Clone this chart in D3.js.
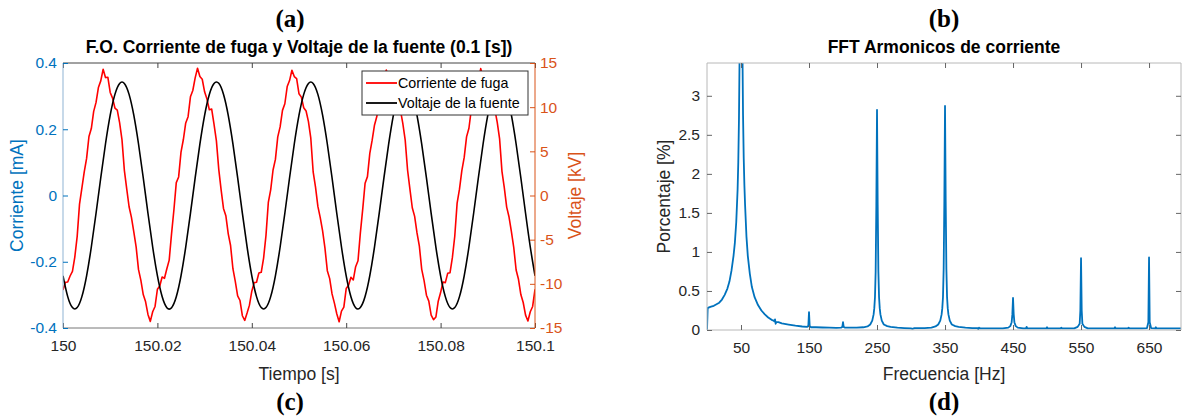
<!DOCTYPE html>
<html><head><meta charset="utf-8">
<script src="https://cdn.jsdelivr.net/npm/d3@7"></script>
<style>body{margin:0;background:#fff}svg{display:block}text{font-family:"Liberation Sans",Arial,sans-serif}</style>
</head><body>
<svg id="c" width="1182" height="417"></svg>
<script>
// ---------- DATA: panel (a)/(c) ----------
const timeStart = 150, timeEnd = 150.1;
const currentStep = 0.0005; // s between current samples
const voltageStep = 0.001;  // s between voltage samples
const timeTicks = [150, 150.02, 150.04, 150.06, 150.08, 150.1];
const timeTickLabels = ["150", "150.02", "150.04", "150.06", "150.08", "150.1"];
const currentTicks = [-0.4, -0.2, 0, 0.2, 0.4];
const currentTickLabels = ["-0.4", "-0.2", "0", "0.2", "0.4"];
const voltageTicks = [-15, -10, -5, 0, 5, 10, 15];
const voltageTickLabels = ["-15", "-10", "-5", "0", "5", "10", "15"];
const legendLabels = ["Corriente de fuga", "Voltaje de la fuente"];
// leakage current [mA]
const currentValues = [
-0.285,-0.262,-0.261,-0.243,-0.229,-0.186,-0.124,-0.026,0.022,0.071,0.112,0.178,0.202,0.254,0.281,0.326,0.346,0.381,0.356,0.357,0.311,0.294,0.264,0.258,0.219,0.168,0.076,0.020,-0.034,-0.066,-0.110,-0.156,-0.224,-0.256,-0.299,-0.321,-0.359,-0.380,-0.351,-0.335,
-0.283,-0.273,-0.246,-0.250,-0.221,-0.195,-0.115,-0.043,0.039,0.056,0.131,0.169,0.219,0.238,0.298,0.317,0.355,0.384,0.359,0.351,0.313,0.291,0.259,0.261,0.215,0.165,0.079,0.017,-0.039,-0.061,-0.115,-0.151,-0.221,-0.259,-0.303,-0.317,-0.363,-0.377,-0.355,-0.331,
-0.289,-0.263,-0.262,-0.234,-0.232,-0.189,-0.121,-0.021,0.017,0.077,0.109,0.177,0.207,0.257,0.277,0.329,0.347,0.378,0.359,0.353,0.307,0.297,0.265,0.255,0.223,0.173,0.071,0.025,-0.033,-0.067,-0.107,-0.159,-0.227,-0.251,-0.297,-0.325,-0.357,-0.381,-0.349,-0.337,
-0.281,-0.271,-0.247,-0.255,-0.215,-0.197,-0.113,-0.041,0.037,0.057,0.127,0.167,0.213,0.239,0.297,0.313,0.357,0.379,0.353,0.355,0.309,0.293,0.261,0.257,0.217,0.167,0.077,0.019,-0.037,-0.063,-0.113,-0.153,-0.223,-0.257,-0.301,-0.319,-0.361,-0.375,-0.367,-0.319,
-0.293,-0.261,-0.263,-0.235,-0.233,-0.187,-0.123,-0.023,0.019,0.075,0.115,0.177,0.203,0.259,0.279,0.325,0.345,0.383,0.357,0.353,0.311,0.295,0.263,0.259,0.221,0.171,0.073,0.023,-0.035,-0.065,-0.109,-0.157,-0.225,-0.253,-0.299,-0.323,-0.361,-0.379,-0.351,-0.335,
-0.283];
// source voltage [kV]
const voltageValues = [
-9.09,-11.45,-12.69,-12.69,-11.45,-9.09,-5.83,-2.01,2.01,5.83,9.09,11.45,12.69,12.69,11.45,9.09,5.83,2.01,-2.01,-5.83,
-9.08,-11.44,-12.70,-12.70,-11.46,-9.10,-5.84,-2.02,2.00,5.82,9.08,11.44,12.68,12.70,11.46,9.10,5.84,2.02,-2.00,-5.82,
-9.09,-11.45,-12.69,-12.69,-11.45,-9.09,-5.83,-2.01,2.01,5.83,9.09,11.45,12.69,12.69,11.45,9.09,5.83,2.01,-2.01,-5.83,
-9.10,-11.46,-12.70,-12.68,-11.44,-9.08,-5.82,-2.00,2.02,5.84,9.10,11.46,12.70,12.68,11.44,9.08,5.82,2.00,-2.02,-5.84,
-9.09,-11.45,-12.69,-12.69,-11.45,-9.09,-5.83,-2.01,2.01,5.83,9.09,11.45,12.69,12.69,11.45,9.09,5.83,2.01,-2.01,-5.83,
-9.09];

// ---------- DATA: panel (b)/(d) ----------
const freqHz = [0,1,3,6,10,14,18,22,26,30,33,36,39,41,43,45,46,47,48,49,50,51,52,53,54,55,56,58,60,63,66,70,75,80,85,90,95,98,99,100,101,102,105,110,120,130,140,147,149,150,151,153,160,170,180,190,197,199,200,201,203,210,220,230,236,240,243,245,246,247,248,249,250,251,252,253,254,255,257,260,265,270,280,290,300,302,305,320,330,336,340,343,345,346,347,348,349,350,351,352,353,354,355,357,360,365,370,380,390,398,399,400,402,420,435,443,446,448,449,450,451,452,454,457,465,469,470,471,480,490,499,500,501,520,521,522,540,545,548,549,550,551,552,555,560,580,599,600,601,619,620,621,640,647,649,650,651,653,659,660,661,680,700];
const percentValues = [0,0.28,0.29,0.30,0.31,0.33,0.35,0.39,0.45,0.53,0.62,0.76,0.95,1.12,1.38,1.80,2.15,2.70,3.60,5.5,8.0,5.6,3.7,2.75,2.2,1.85,1.6,1.2,0.95,0.72,0.55,0.42,0.32,0.25,0.20,0.16,0.13,0.12,0.11,0.135,0.08,0.10,0.10,0.085,0.07,0.055,0.045,0.04,0.05,0.23,0.05,0.035,0.035,0.032,0.03,0.028,0.03,0.04,0.10,0.04,0.03,0.03,0.03,0.035,0.045,0.07,0.12,0.2,0.28,0.42,0.75,1.6,2.82,1.6,0.75,0.42,0.28,0.2,0.12,0.07,0.05,0.04,0.03,0.025,0.02,0.015,0.025,0.025,0.03,0.045,0.07,0.12,0.2,0.28,0.42,0.78,1.65,2.87,1.65,0.78,0.42,0.28,0.2,0.12,0.07,0.05,0.04,0.03,0.025,0.025,0.01,0.03,0.02,0.02,0.02,0.03,0.05,0.1,0.2,0.41,0.2,0.1,0.05,0.03,0.02,0.02,0.04,0.02,0.02,0.02,0.02,0.035,0.02,0.02,0.03,0.02,0.02,0.04,0.08,0.25,0.92,0.25,0.08,0.04,0.02,0.02,0.02,0.035,0.02,0.02,0.03,0.02,0.02,0.025,0.1,0.93,0.1,0.025,0.02,0.035,0.02,0.02,0.02];
const freqTicks = [50,150,250,350,450,550,650];
const percentTicks = [0,0.5,1,1.5,2,2.5,3];
const percentTickLabels = ["0","0.5","1","1.5","2","2.5","3"];

// ---------- DRAW ----------
const svg = d3.select("#c");
const BLUE = "#0072BD", ORANGE = "#D95319", TXT = "#262626";
const TICKFS = "15.5px", LABFS = "17.5px";

function caption(x, y, t){
  svg.append("text").attr("x",x).attr("y",y).attr("text-anchor","middle")
    .style("font-family","'Liberation Serif','Times New Roman',serif").style("font-weight","bold")
    .style("font-size","25px").attr("fill","#000").text(t);
}

// ===== Panel left =====
const L = {l:63, r:535, t:63, b:328};
const xT = d3.scaleLinear().domain([timeStart,timeEnd]).range([L.l,L.r]);
const yI = d3.scaleLinear().domain([-0.4,0.4]).range([L.b,L.t]);
const yV = d3.scaleLinear().domain([-15,15]).range([L.b,L.t]);

caption(290, 27, "(a)");
caption(290, 410, "(c)");
svg.append("text").attr("x",(L.l+L.r)/2).attr("y",53).attr("text-anchor","middle")
  .style("font-weight","bold").style("font-size","17.5px").attr("fill","#000")
  .text("F.O. Corriente de fuga y Voltaje de la fuente (0.1 [s])");

svg.append("defs").append("clipPath").attr("id","clipL").append("rect")
  .attr("x",L.l).attr("y",L.t).attr("width",L.r-L.l).attr("height",L.b-L.t);

const gL = svg.append("g").attr("clip-path","url(#clipL)");
const tI = currentValues.map((v,i)=>timeStart + i*currentStep);
const tV = voltageValues.map((v,i)=>timeStart + i*voltageStep);
gL.append("path").attr("fill","none").attr("stroke","#ff0000").attr("stroke-width",1.6)
  .attr("stroke-linejoin","round")
  .attr("d", d3.line().x((d,i)=>xT(tI[i])).y(d=>yI(d))(currentValues));
gL.append("path").attr("fill","none").attr("stroke","#000").attr("stroke-width",1.6)
  .attr("d", d3.line().curve(d3.curveNatural).x((d,i)=>xT(tV[i])).y(d=>yV(d))(voltageValues));

// x axes
const axB = svg.append("g").attr("transform",`translate(0,${L.b})`)
  .call(d3.axisBottom(xT).tickValues(timeTicks).tickFormat((d,i)=>timeTickLabels[i]).tickSize(-5).tickPadding(12));
axB.select(".domain").attr("stroke","#777").attr("d",`M${L.l},0H${L.r}`);
axB.selectAll(".tick line").attr("stroke","#444");
axB.selectAll("text").style("font-size",TICKFS).attr("fill",TXT);
const axTp = svg.append("g").attr("transform",`translate(0,${L.t})`)
  .call(d3.axisTop(xT).tickValues(timeTicks).tickFormat("").tickSize(-5));
axTp.select(".domain").attr("stroke","#444").attr("d",`M${L.l},0H${L.r}`);
axTp.selectAll(".tick line").attr("stroke","#444");
// left y
const axLy = svg.append("g").attr("transform",`translate(${L.l},0)`)
  .call(d3.axisLeft(yI).tickValues(currentTicks).tickFormat((d,i)=>currentTickLabels[i]).tickSize(-5).tickPadding(6));
axLy.select(".domain").attr("stroke","#8fb3d3").attr("d",`M0,${L.t}V${L.b}`);
axLy.selectAll(".tick line").attr("stroke",BLUE);
axLy.selectAll("text").style("font-size",TICKFS).attr("fill",BLUE);
// right y
const axRy = svg.append("g").attr("transform",`translate(${L.r},0)`)
  .call(d3.axisRight(yV).tickValues(voltageTicks).tickFormat((d,i)=>voltageTickLabels[i]).tickSize(-5).tickPadding(5));
axRy.select(".domain").attr("stroke",ORANGE).attr("d",`M0,${L.t}V${L.b}`);
axRy.selectAll(".tick line").attr("stroke",ORANGE);
axRy.selectAll("text").style("font-size",TICKFS).attr("fill",ORANGE);

svg.append("text").attr("transform",`translate(23,${(L.t+L.b)/2}) rotate(-90)`).attr("text-anchor","middle")
  .style("font-size",LABFS).attr("fill",BLUE).text("Corriente [mA]");
svg.append("text").attr("transform",`translate(581,${(L.t+L.b)/2}) rotate(-90)`).attr("text-anchor","middle")
  .style("font-size",LABFS).attr("fill",ORANGE).text("Voltaje [kV]");
svg.append("text").attr("x",(L.l+L.r)/2).attr("y",380).attr("text-anchor","middle")
  .style("font-size",LABFS).attr("fill",TXT).text("Tiempo [s]");

// legend
const lg = svg.append("g");
lg.append("rect").attr("x",362).attr("y",71).attr("width",166).attr("height",44)
  .attr("fill","#fff").attr("stroke","#333").attr("stroke-width",1);
const legColors = ["#ff0000","#000"];
legendLabels.forEach((lab,i)=>{
  const y = 83 + i*20;
  lg.append("line").attr("x1",366).attr("x2",397).attr("y1",y).attr("y2",y)
    .attr("stroke",legColors[i]).attr("stroke-width",1.8);
  lg.append("text").attr("x",398).attr("y",y+5).style("font-size","14.3px").attr("fill","#000").text(lab);
});

// ===== Panel right =====
const R = {l:707, r:1181, t:63, b:330};
const xF = d3.scaleLinear().domain([0,697]).range([R.l,R.r]);
const yP = d3.scaleLinear().domain([0,3.42]).range([R.b,R.t]);

caption(944, 27, "(b)");
caption(944, 410, "(d)");
svg.append("text").attr("x",944).attr("y",53).attr("text-anchor","middle")
  .style("font-weight","bold").style("font-size","17.5px").attr("fill","#000")
  .text("FFT Armonicos de corriente");

svg.select("defs").append("clipPath").attr("id","clipR").append("rect")
  .attr("x",R.l).attr("y",R.t).attr("width",R.r-R.l).attr("height",R.b-R.t);

svg.append("g").attr("clip-path","url(#clipR)").append("path")
  .attr("fill","none").attr("stroke",BLUE).attr("stroke-width",1.8).attr("stroke-linejoin","round")
  .attr("d", d3.line().x((d,i)=>xF(freqHz[i])).y(d=>yP(d))(percentValues));

const GRAYAX = "#b8b8b8";
const rB = svg.append("g").attr("transform",`translate(0,${R.b})`)
  .call(d3.axisBottom(xF).tickValues(freqTicks).tickSize(-5).tickPadding(12));
rB.select(".domain").attr("stroke",GRAYAX).attr("d",`M${R.l},0H${R.r}`);
rB.selectAll(".tick line").attr("stroke","#666");
rB.selectAll("text").style("font-size",TICKFS).attr("fill",TXT);
const rT = svg.append("g").attr("transform",`translate(0,${R.t})`)
  .call(d3.axisTop(xF).tickValues(freqTicks).tickFormat("").tickSize(-5));
rT.select(".domain").attr("stroke",GRAYAX).attr("d",`M${R.l},0H${R.r}`);
rT.selectAll(".tick line").attr("stroke","#666");
const rL = svg.append("g").attr("transform",`translate(${R.l},0)`)
  .call(d3.axisLeft(yP).tickValues(percentTicks).tickFormat((d,i)=>percentTickLabels[i]).tickSize(-5).tickPadding(7));
rL.select(".domain").attr("stroke",GRAYAX).attr("d",`M0,${R.t}V${R.b}`);
rL.selectAll(".tick line").attr("stroke","#666");
rL.selectAll("text").style("font-size",TICKFS).attr("fill",TXT);
const rR = svg.append("g").attr("transform",`translate(${R.r},0)`)
  .call(d3.axisRight(yP).tickValues(percentTicks).tickFormat("").tickSize(-5));
rR.select(".domain").attr("stroke",GRAYAX).attr("d",`M0,${R.t}V${R.b}`);
rR.selectAll(".tick line").attr("stroke","#666");

svg.append("text").attr("transform",`translate(670,${(R.t+R.b)/2}) rotate(-90)`).attr("text-anchor","middle")
  .style("font-size",LABFS).attr("fill",TXT).text("Porcentaje [%]");
svg.append("text").attr("x",944).attr("y",380).attr("text-anchor","middle")
  .style("font-size",LABFS).attr("fill",TXT).text("Frecuencia [Hz]");
</script>
</body></html>
